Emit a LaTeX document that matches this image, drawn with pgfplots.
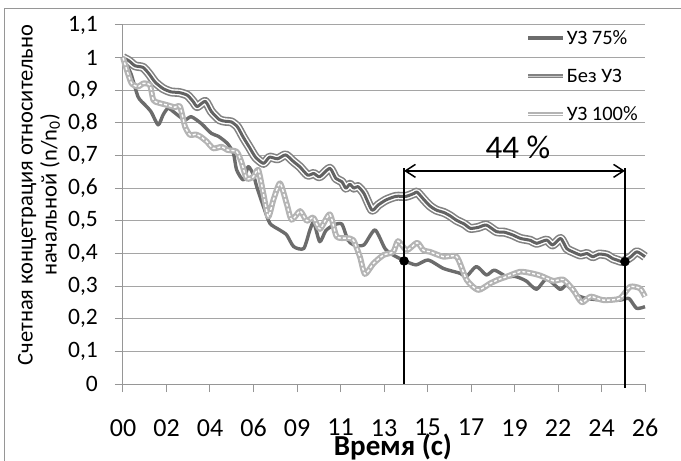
\documentclass[border=0pt]{standalone}
\usepackage{fontspec}
\setmainfont{Carlito}
\usepackage{pgfplots}
\pgfplotsset{compat=1.18}
\usepackage{pgfplotstable}
\usetikzlibrary{arrows.meta}

\definecolor{cA}{RGB}{108,108,108}
\definecolor{cBo}{RGB}{130,130,130}
\definecolor{cBi}{RGB}{98,98,98}
\definecolor{cC}{RGB}{180,180,180}
\definecolor{gridc}{RGB}{165,165,165}
\definecolor{axisc}{RGB}{150,150,150}

% УЗ 75%
\pgfplotstableread{
t v
0 1.0
0.4 0.95
0.75 0.88
1.1 0.855
1.4 0.834
1.75 0.794
2.0 0.825
2.25 0.845
2.6 0.83
3.07 0.809
3.4 0.819
3.9 0.798
4.4 0.768
4.75 0.759
5.2 0.737
5.5 0.707
5.66 0.656
6.0 0.625
6.24 0.666
6.5 0.64
6.66 0.605
7.0 0.543
7.32 0.492
7.8 0.472
8.15 0.457
8.5 0.421
9.0 0.415
9.3 0.47
9.5 0.495
9.8 0.436
10.1 0.47
10.5 0.487
10.9 0.49
11.2 0.441
11.5 0.426
12.0 0.426
12.55 0.472
13.05 0.415
13.46 0.395
14.05 0.377
14.6 0.365
15.2 0.38
15.96 0.354
16.8 0.339
17.1 0.329
17.6 0.36
18.1 0.334
18.5 0.349
19.1 0.329
19.5 0.33
19.8 0.324
20.1 0.315
20.6 0.29
21.1 0.322
21.77 0.29
22.1 0.303
22.6 0.273
23.1 0.262
23.9 0.257
24.75 0.257
25.2 0.262
25.58 0.232
26 0.237
}\tableA

% Без УЗ
\pgfplotstableread{
t v
0 1.00
0.3 0.99
0.6 0.975
1.0 0.97
1.3 0.95
1.6 0.925
2.0 0.905
2.4 0.895
2.8 0.893
3.2 0.885
3.5 0.865
3.7 0.85
4.1 0.866
4.4 0.835
4.8 0.81
5.1 0.805
5.4 0.803
5.7 0.788
6.0 0.755
6.3 0.725
6.6 0.695
7.0 0.676
7.3 0.695
7.7 0.69
8.1 0.702
8.5 0.681
8.8 0.666
9.2 0.64
9.5 0.645
9.8 0.635
10.3 0.661
10.6 0.63
10.9 0.62
11.1 0.6
11.3 0.612
11.5 0.6
11.7 0.605
12.0 0.584
12.4 0.533
12.7 0.548
13.1 0.564
13.6 0.575
14.1 0.575
14.5 0.584
14.65 0.588
15.0 0.564
15.3 0.545
15.6 0.533
16.0 0.525
16.3 0.515
16.6 0.502
17.0 0.49
17.3 0.477
17.7 0.48
18.1 0.487
18.6 0.467
19.0 0.465
19.4 0.457
19.8 0.446
20.3 0.44
20.6 0.431
21.1 0.441
21.4 0.426
21.8 0.446
22.1 0.415
22.4 0.405
22.8 0.395
23.1 0.4
23.4 0.39
23.7 0.398
24.1 0.395
24.4 0.384
24.6 0.38
24.9 0.375
25.3 0.39
25.6 0.405
26.0 0.39
}\tableB

% УЗ 100%
\pgfplotstableread{
t v
0 1.0
0.2 0.96
0.43 0.921
0.76 0.911
1.0 0.921
1.34 0.916
1.51 0.87
1.76 0.862
2.18 0.855
2.59 0.848
2.84 0.85
3.09 0.789
3.34 0.763
3.6 0.765
3.84 0.759
4.17 0.743
4.5 0.722
4.92 0.727
5.2 0.717
5.66 0.712
5.9 0.68
6.16 0.63
6.49 0.635
6.74 0.656
6.99 0.584
7.24 0.513
7.49 0.564
7.82 0.615
8.15 0.553
8.4 0.503
8.82 0.53
9.15 0.5
9.48 0.51
9.81 0.475
10.3 0.52
10.64 0.452
11.14 0.447
11.47 0.441
11.8 0.39
12.05 0.337
12.47 0.369
12.97 0.395
13.46 0.405
13.7 0.438
14.13 0.41
14.65 0.433
14.96 0.41
15.29 0.405
15.96 0.39
16.62 0.39
17.12 0.319
17.69 0.288
18.28 0.308
18.7 0.32
19.11 0.329
19.77 0.344
20.3 0.34
20.8 0.332
21.43 0.316
21.93 0.32
22.43 0.288
22.85 0.25
23.3 0.268
23.92 0.257
24.75 0.262
25.25 0.298
25.75 0.293
26 0.268
}\tableC

\begin{document}
\begin{tikzpicture}
\useasboundingbox (-123bp,-77bp) rectangle (558bp,384bp);
\draw[color=axisc, line width=1bp] (-118bp,375bp) rectangle (600bp,-120bp);
\begin{axis}[
  at={(0,0)}, anchor=south west,
  scale only axis, width=522bp, height=359bp,
  xmin=0, xmax=26, ymin=0, ymax=1.1,
  axis lines*=left,
  axis line style={axisc, line width=1bp},
  clip=false,
  xtick={0,2.16667,4.33333,6.5,8.66667,10.83333,13,15.16667,17.33333,19.5,21.66667,23.83333,26},
  xticklabels={00,02,04,06,09,11,13,15,17,19,22,24,26},
  ytick={0,0.1,0.2,0.3,0.4,0.5,0.6,0.7,0.8,0.9,1.0,1.1},
  yticklabels={0,{0,1},{0,2},{0,3},{0,4},{0,5},{0,6},{0,7},{0,8},{0,9},1,{1,1}},
  tick align=outside, major tick length=8bp,
  tick style={axisc, line width=1bp},
  ymajorgrids, grid style={gridc, line width=1bp},
  xticklabel style={font=\fontsize{26bp}{30bp}\selectfont, inner sep=0pt, anchor=north, yshift=-27bp},
  yticklabel style={font=\fontsize{23.5bp}{27bp}\selectfont, inner sep=0pt, anchor=east, xshift=-17bp},
  legend style={draw=none, fill=none, at={(rel axis cs:0.772,0.99)}, anchor=north west,
    font=\fontsize{20.5bp}{24bp}\selectfont, row sep=20bp, inner sep=0pt,
    nodes={inner sep=1.5bp}},
  legend cell align=left,
  legend image code/.code={\draw[#1] (0bp,0bp) -- (35bp,0bp);},
]
\addlegendimage{cA, line width=3.2bp}
\addlegendentry{УЗ 75\%}
\addlegendimage{draw=cBo, double=cC!70, line width=1.3bp, double distance=1.3bp}
\addlegendentry{Без УЗ}
\addlegendimage{draw=cC, double=white, line width=1.3bp, double distance=1.5bp}
\addlegendentry{УЗ 100\%}

\addplot[forget plot, cA, line width=3.4bp, smooth, tension=0.4, line join=round] table[x=t,y=v] {\tableA};

\addplot[forget plot, cBo, line width=9bp, smooth, tension=0.4, line join=round] table[x=t,y=v] {\tableB};
\addplot[forget plot, white, line width=5.8bp, smooth, tension=0.4, line join=round] table[x=t,y=v] {\tableB};
\addplot[forget plot, cBi, line width=3bp, smooth, tension=0.4, line join=round] table[x=t,y=v] {\tableB};

\addplot[forget plot, cC, line width=5.8bp, smooth, tension=0.4, line join=round] table[x=t,y=v] {\tableC};
\addplot[forget plot, white, line width=1.4bp, dash pattern=on 3bp off 2bp, smooth, tension=0.4, line join=round] table[x=t,y=v] {\tableC};

\addplot[forget plot, black, line width=1.6bp] coordinates {(14,0) (14,0.661)};
\addplot[forget plot, black, line width=1.6bp] coordinates {(25,-0.012) (25,0.661)};
\draw[black, line width=1.5bp, {Straight Barb[length=10bp,width=13bp]}-{Straight Barb[length=10bp,width=13bp]}] (axis cs:14,0.653) -- (axis cs:25,0.653);
\addplot[forget plot, only marks, mark=*, mark size=4.5bp, black] coordinates {(14,0.377) (25,0.375)};
\node[font=\fontsize{33bp}{36bp}\selectfont] at (axis cs:19.67,0.7246) {44 \%};
\end{axis}
\node[rotate=90, align=center, font=\fontsize{22.5bp}{24bp}\selectfont] at (-84bp,189bp)
  {Счетная концетрация относительно\\начальной (n/n\textsubscript{0})};
\node[anchor=base, font=\bfseries\fontsize{29bp}{32bp}\selectfont] at (270bp,-71bp) {Время (с)};
\end{tikzpicture}
\end{document}
